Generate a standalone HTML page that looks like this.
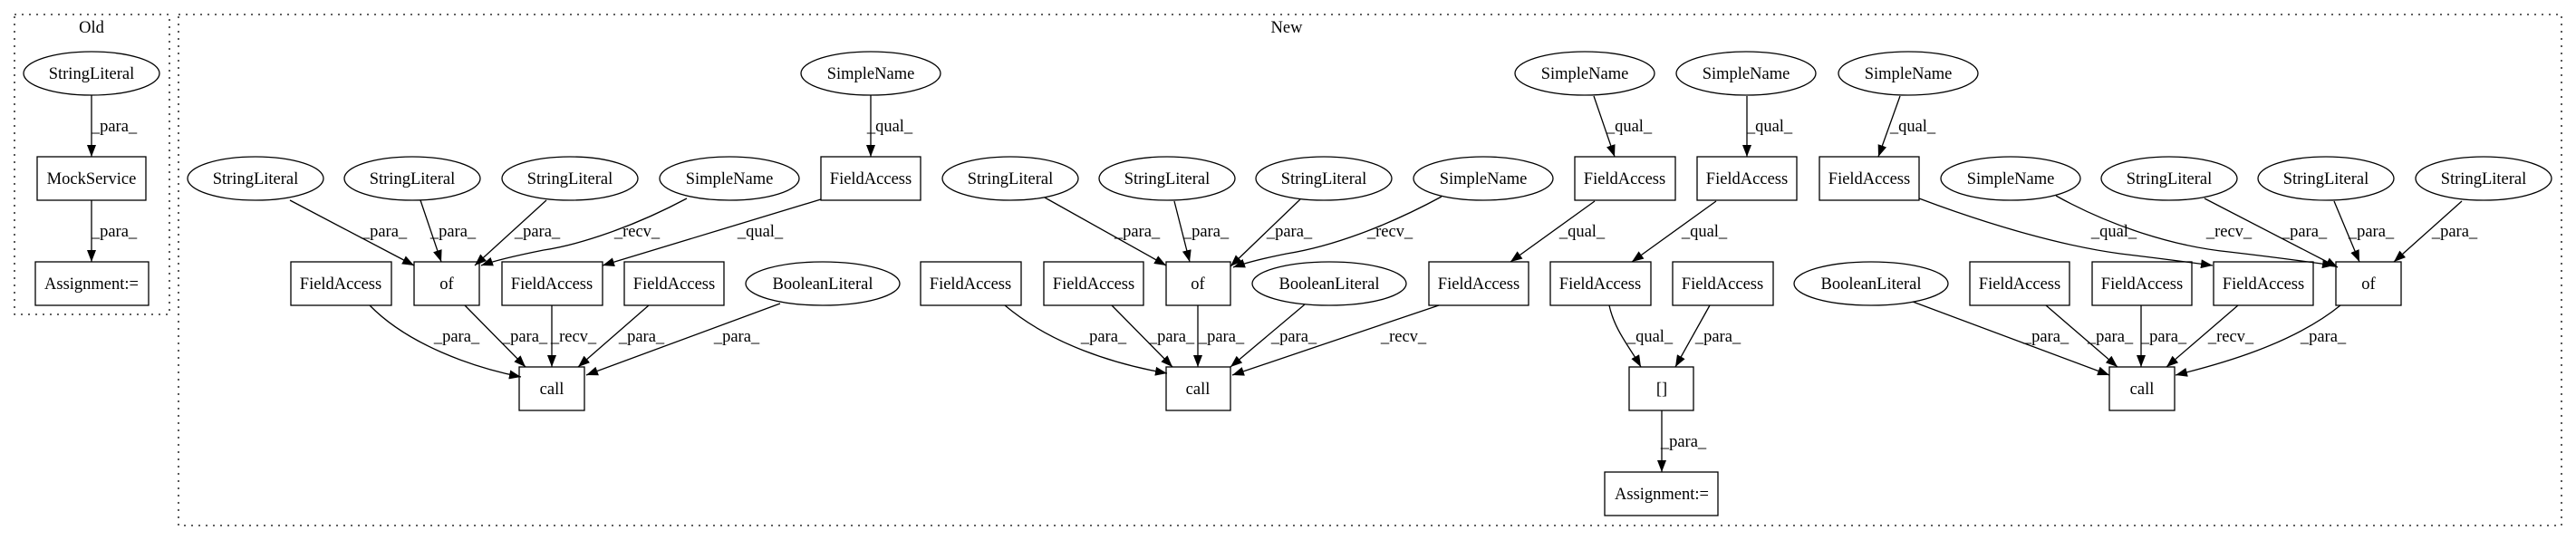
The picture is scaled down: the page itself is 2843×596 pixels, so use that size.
<!DOCTYPE html>
<html><head><meta charset="utf-8"><style>
html,body{margin:0;padding:0;background:#fff;}
svg{display:block;}
text{font-family:"Liberation Serif",serif;font-size:18.5px;fill:#000;}
</style></head><body>
<svg width="2843" height="596" viewBox="0 0 2843 596" xmlns="http://www.w3.org/2000/svg">
<defs>
<marker id="a" markerWidth="14" markerHeight="10" refX="13" refY="5" orient="auto" markerUnits="userSpaceOnUse">
<path d="M0,0 L13,5 L0,10 Z" fill="#000"/>
</marker>
</defs>
<g fill="none" stroke="#000" stroke-width="1.3" stroke-dasharray="2,6">
<rect x="16" y="16" width="171" height="331"/>
<rect x="197" y="16" width="2630" height="564"/>
</g>
<g text-anchor="middle">
<text x="101" y="36">Old</text>
<text x="1420" y="36">New</text>
</g>
<g fill="#fff" stroke="#000" stroke-width="1.3">
<!-- Old -->
<ellipse cx="101" cy="81" rx="75" ry="24"/>
<rect x="41" y="173" width="120" height="48"/>
<rect x="39" y="289" width="125" height="48"/>
<!-- row1 -->
<ellipse cx="961" cy="81" rx="77" ry="24"/>
<ellipse cx="1749" cy="81" rx="77" ry="24"/>
<ellipse cx="1927" cy="81" rx="77" ry="24"/>
<ellipse cx="2106" cy="81" rx="77" ry="24"/>
<!-- row2 -->
<ellipse cx="282" cy="197" rx="75" ry="24"/>
<ellipse cx="455" cy="197" rx="75" ry="24"/>
<ellipse cx="629" cy="197" rx="75" ry="24"/>
<ellipse cx="805" cy="197" rx="77" ry="24"/>
<rect x="906" y="173" width="110" height="48"/>
<ellipse cx="1115" cy="197" rx="75" ry="24"/>
<ellipse cx="1288" cy="197" rx="75" ry="24"/>
<ellipse cx="1461" cy="197" rx="75" ry="24"/>
<ellipse cx="1637" cy="197" rx="77" ry="24"/>
<rect x="1738" y="173" width="111" height="48"/>
<rect x="1873" y="173" width="110" height="48"/>
<rect x="2008" y="173" width="110" height="48"/>
<ellipse cx="2219" cy="197" rx="77" ry="24"/>
<ellipse cx="2394" cy="197" rx="75" ry="24"/>
<ellipse cx="2567" cy="197" rx="75" ry="24"/>
<ellipse cx="2741" cy="197" rx="75" ry="24"/>
<!-- row3 -->
<rect x="321" y="289" width="111" height="48"/>
<rect x="457" y="289" width="72" height="48"/>
<rect x="554" y="289" width="111" height="48"/>
<rect x="689" y="289" width="110" height="48"/>
<ellipse cx="908" cy="313" rx="85" ry="24"/>
<rect x="1016" y="289" width="111" height="48"/>
<rect x="1152" y="289" width="110" height="48"/>
<rect x="1287" y="289" width="71" height="48"/>
<ellipse cx="1467" cy="313" rx="85" ry="24"/>
<rect x="1577" y="289" width="110" height="48"/>
<rect x="1711" y="289" width="111" height="48"/>
<rect x="1846" y="289" width="111" height="48"/>
<ellipse cx="2065" cy="313" rx="85" ry="24"/>
<rect x="2174" y="289" width="110" height="48"/>
<rect x="2309" y="289" width="110" height="48"/>
<rect x="2443" y="289" width="110" height="48"/>
<rect x="2578" y="289" width="72" height="48"/>
<!-- row4 -->
<rect x="573" y="405" width="72" height="48"/>
<rect x="1287" y="405" width="71" height="48"/>
<rect x="1798" y="405" width="71" height="48"/>
<rect x="2328" y="405" width="72" height="48"/>
<!-- row5 -->
<rect x="1771" y="521" width="125" height="48"/>
</g>
<g text-anchor="middle">
<text x="101" y="87">StringLiteral</text>
<text x="101" y="203">MockService</text>
<text x="101" y="319">Assignment:=</text>
<text x="961" y="87">SimpleName</text>
<text x="1749" y="87">SimpleName</text>
<text x="1927" y="87">SimpleName</text>
<text x="2106" y="87">SimpleName</text>
<text x="282" y="203">StringLiteral</text>
<text x="455" y="203">StringLiteral</text>
<text x="629" y="203">StringLiteral</text>
<text x="805" y="203">SimpleName</text>
<text x="961" y="203">FieldAccess</text>
<text x="1115" y="203">StringLiteral</text>
<text x="1288" y="203">StringLiteral</text>
<text x="1461" y="203">StringLiteral</text>
<text x="1637" y="203">SimpleName</text>
<text x="1793" y="203">FieldAccess</text>
<text x="1928" y="203">FieldAccess</text>
<text x="2063" y="203">FieldAccess</text>
<text x="2219" y="203">SimpleName</text>
<text x="2394" y="203">StringLiteral</text>
<text x="2567" y="203">StringLiteral</text>
<text x="2741" y="203">StringLiteral</text>
<text x="376" y="319">FieldAccess</text>
<text x="493" y="319">of</text>
<text x="609" y="319">FieldAccess</text>
<text x="744" y="319">FieldAccess</text>
<text x="908" y="319">BooleanLiteral</text>
<text x="1071" y="319">FieldAccess</text>
<text x="1207" y="319">FieldAccess</text>
<text x="1322" y="319">of</text>
<text x="1467" y="319">BooleanLiteral</text>
<text x="1632" y="319">FieldAccess</text>
<text x="1766" y="319">FieldAccess</text>
<text x="1901" y="319">FieldAccess</text>
<text x="2065" y="319">BooleanLiteral</text>
<text x="2229" y="319">FieldAccess</text>
<text x="2364" y="319">FieldAccess</text>
<text x="2498" y="319">FieldAccess</text>
<text x="2614" y="319">of</text>
<text x="609" y="435">call</text>
<text x="1322" y="435">call</text>
<text x="1834" y="435">[]</text>
<text x="2364" y="435">call</text>
<text x="1834" y="551">Assignment:=</text>
</g>
<g fill="none" stroke="#000" stroke-width="1.3" marker-end="url(#a)">
<line x1="101" y1="105" x2="101" y2="173"/>
<line x1="101" y1="221" x2="101" y2="289"/>
<line x1="320" y1="221" x2="457" y2="293"/>
<line x1="464" y1="221" x2="487" y2="289"/>
<line x1="603" y1="221" x2="524" y2="293"/>
<path d="M758,219 C700,250 640,270 600,276 C570,282 545,288 531,293"/>
<line x1="906" y1="220" x2="665" y2="293"/>
<line x1="961" y1="105" x2="961" y2="173"/>
<path d="M408,337 C450,380 520,405 575,416"/>
<line x1="513" y1="337" x2="580" y2="405"/>
<line x1="609" y1="337" x2="609" y2="405"/>
<line x1="716" y1="337" x2="638" y2="405"/>
<line x1="861" y1="335" x2="647" y2="414"/>
<line x1="1153" y1="218" x2="1287" y2="293"/>
<line x1="1296" y1="222" x2="1313" y2="289"/>
<line x1="1435" y1="220" x2="1358" y2="294"/>
<path d="M1591,217 C1530,250 1470,272 1420,280 C1395,285 1375,290 1361,295"/>
<path d="M1109,337 C1160,380 1230,402 1288,412"/>
<line x1="1227" y1="337" x2="1294" y2="405"/>
<line x1="1322" y1="337" x2="1322" y2="405"/>
<line x1="1440" y1="336" x2="1358" y2="405"/>
<line x1="1588" y1="337" x2="1360" y2="414"/>
<line x1="1759" y1="106" x2="1782" y2="173"/>
<line x1="1928" y1="106" x2="1928" y2="173"/>
<line x1="1760" y1="222" x2="1667" y2="289"/>
<line x1="1894" y1="222" x2="1801" y2="289"/>
<path d="M1776,337 C1782,365 1800,385 1811,405"/>
<line x1="1887" y1="337" x2="1849" y2="405"/>
<line x1="1834" y1="453" x2="1834" y2="521"/>
<line x1="2097" y1="106" x2="2073" y2="173"/>
<path d="M2118,219 C2200,250 2280,272 2340,280 C2390,286 2420,290 2442,293"/>
<path d="M2269,216 C2330,250 2400,272 2460,278 C2520,285 2555,290 2576,293"/>
<line x1="2433" y1="219" x2="2580" y2="295"/>
<line x1="2576" y1="222" x2="2604" y2="289"/>
<line x1="2717" y1="222" x2="2642" y2="289"/>
<line x1="2111" y1="333" x2="2328" y2="414"/>
<line x1="2258" y1="337" x2="2337" y2="405"/>
<line x1="2363" y1="337" x2="2363" y2="405"/>
<line x1="2470" y1="337" x2="2391" y2="405"/>
<path d="M2583,337 C2530,380 2450,402 2401,414"/>
</g>
<g text-anchor="middle">
<text x="126" y="145">_para_</text>
<text x="126" y="261">_para_</text>
<text x="424" y="261">_para_</text>
<text x="500" y="261">_para_</text>
<text x="593" y="261">_para_</text>
<text x="703" y="261">_recv_</text>
<text x="839" y="261">_qual_</text>
<text x="982" y="145">_qual_</text>
<text x="504" y="377">_para_</text>
<text x="579" y="377">_para_</text>
<text x="633" y="377">_recv_</text>
<text x="708" y="377">_para_</text>
<text x="813" y="377">_para_</text>
<text x="1255" y="261">_para_</text>
<text x="1331" y="261">_para_</text>
<text x="1423" y="261">_para_</text>
<text x="1534" y="261">_recv_</text>
<text x="1218" y="377">_para_</text>
<text x="1293" y="377">_para_</text>
<text x="1348" y="377">_para_</text>
<text x="1428" y="377">_para_</text>
<text x="1549" y="377">_recv_</text>
<text x="1798" y="145">_qual_</text>
<text x="1953" y="145">_qual_</text>
<text x="1746" y="261">_qual_</text>
<text x="1881" y="261">_qual_</text>
<text x="1821" y="377">_qual_</text>
<text x="1896" y="377">_para_</text>
<text x="1858" y="493">_para_</text>
<text x="2111" y="145">_qual_</text>
<text x="2333" y="261">_qual_</text>
<text x="2460" y="261">_recv_</text>
<text x="2543" y="261">_para_</text>
<text x="2617" y="261">_para_</text>
<text x="2709" y="261">_para_</text>
<text x="2258" y="377">_para_</text>
<text x="2329" y="377">_para_</text>
<text x="2388" y="377">_para_</text>
<text x="2462" y="377">_recv_</text>
<text x="2564" y="377">_para_</text>
</g>
</svg>
</body></html>
